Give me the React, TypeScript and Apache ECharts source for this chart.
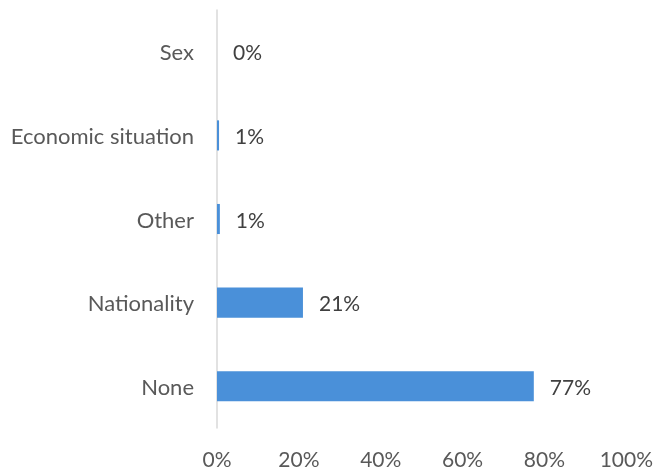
import React, { useEffect, useRef } from "react";
import * as echarts from "echarts";

const categories = ["None", "Nationality", "Other", "Economic situation", "Sex"];
const values = [77.4, 21.0, 0.7, 0.5, 0];
const xTicks = [0, 20, 40, 60, 80, 100];

export default function App() {
  const ref = useRef<HTMLDivElement>(null);
  useEffect(() => {
    if (!ref.current) return;
    const chart = echarts.init(ref.current, undefined, { renderer: "svg" });
    chart.setOption({
      animation: false,
      grid: { left: 217, right: 29, top: 10, bottom: 43, containLabel: false },
      xAxis: {
        type: "value",
        min: xTicks[0],
        max: xTicks[xTicks.length - 1],
        interval: 20,
        splitLine: { show: false },
        axisLine: { show: false },
        axisTick: { show: false },
        axisLabel: {
          formatter: (v: number) => v + "%",
          color: "#595959",
          fontSize: 21,
          fontFamily: "Lato",
          margin: 20,
        },
      },
      yAxis: {
        type: "category",
        data: categories,
        axisLine: { show: true, lineStyle: { color: "#d9d9d9", width: 1.5 } },
        axisTick: { show: false },
        axisLabel: {
          color: "#595959",
          fontSize: 22,
          fontFamily: "Lato",
          margin: 23,
        },
      },
      series: [
        {
          type: "bar",
          data: values,
          barCategoryGap: "64%",
          itemStyle: { color: "#4a90d9" },
          label: {
            show: true,
            position: "right",
            distance: 16,
            formatter: (p: any) => Math.round(p.value) + "%",
            color: "#404040",
            fontSize: 21,
            fontFamily: "Lato",
          },
        },
      ],
    });
    return () => chart.dispose();
  }, []);
  return (
    <div
      ref={ref}
      style={{ position: "fixed", left: 0, top: 0, width: 656, height: 471 }}
    />
  );
}
